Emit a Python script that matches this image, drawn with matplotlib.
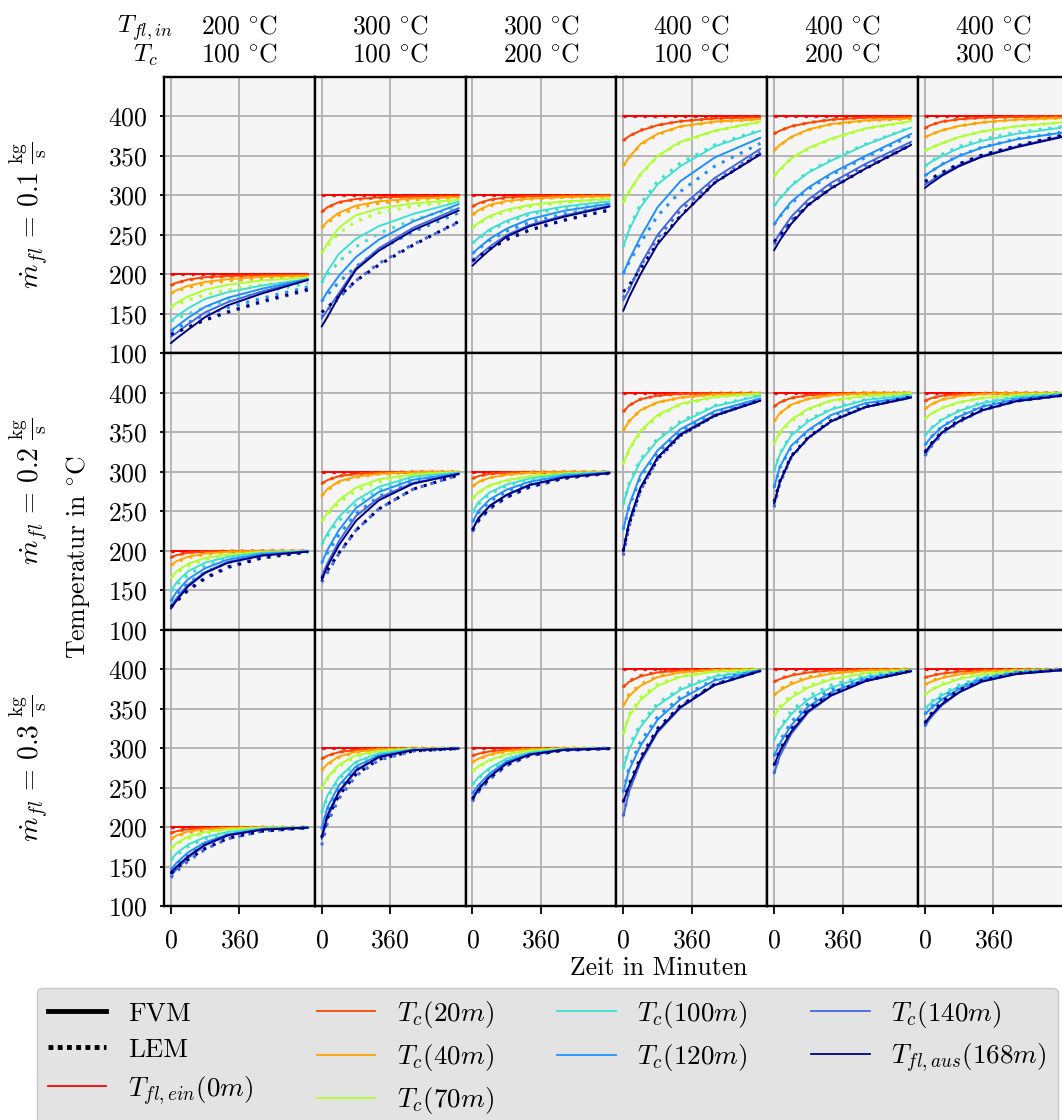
import matplotlib
matplotlib.use("Agg")
import matplotlib.pyplot as plt
from matplotlib.lines import Line2D

plt.rcParams.update({
    "font.family": ["cmr10", "DejaVu Serif"],
    "mathtext.fontset": "cm",
    "axes.unicode_minus": False,
    "axes.formatter.use_mathtext": True,
    "font.size": 18.5,
})

# ---------------- data ----------------
t_min = [0, 30, 90, 180, 300, 480, 720]
T_in = [200, 300, 300, 400, 400, 400]
T_c0 = [100, 100, 200, 100, 200, 300]
mdot = ["0.1", "0.2", "0.3"]
curve_labels = [r"$T_{fl,ein}(\mathit{0m})$", r"$T_c(\mathit{20m})$", r"$T_c(\mathit{40m})$",
                r"$T_c(\mathit{70m})$", r"$T_c(\mathit{100m})$", r"$T_c(\mathit{120m})$",
                r"$T_c(\mathit{140m})$", r"$T_{fl,aus}(\mathit{168m})$"]
curve_colors = ["red", "orangered", "orange", "greenyellow", "turquoise",
                "dodgerblue", "royalblue", "navy"]

# row 1 (0.1 kg/s)
fvm_r1c1 = [[200]*7,
            [186.4, 189.5, 193.5, 196.5, 198, 199, 199.5],
            [176, 180, 185.5, 190.5, 194, 197, 198.5],
            [159, 164, 172, 180.5, 187, 192.5, 196],
            [141, 147, 157, 169, 177.5, 186, 194],
            [128.5, 134, 145, 159, 170.5, 182, 194],
            [121, 126, 137, 152, 165, 178.5, 193.5],
            [113, 119, 130, 146, 161, 176, 193]]
lem_r1c1 = [[200]*7,
            [186, 189, 193, 196, 197.5, 198.5, 199],
            [176, 179, 183.5, 188, 192, 195, 197.5],
            [159, 162, 167.5, 174, 180.5, 187, 193],
            [141, 144, 150, 158.5, 167, 177.5, 189],
            [128.5, 132, 139, 148.5, 158, 170, 184],
            [124, 127, 133, 142, 152, 165, 180],
            [124, 127, 133, 142.5, 152.5, 166, 181]]
fvm_r1c2 = [[300]*7,
            [279, 285, 291.5, 295.5, 297.5, 298.5, 299],
            [259, 267, 278, 287, 292.5, 296, 298],
            [227, 239, 259, 275, 283.5, 290, 294.5],
            [189.5, 204, 226, 245, 261, 276.5, 292],
            [166, 178, 198, 222, 244, 267, 289],
            [144, 155, 176, 208, 233, 259, 284],
            [134, 146, 172, 206, 230, 256, 281]]
lem_r1c2 = [[300]*7,
            [279, 284.5, 291, 295, 297, 298.5, 299],
            [259, 265.5, 275, 284, 290, 294.5, 297.5],
            [227, 236, 252, 267, 278, 286.5, 292.5],
            [189.5, 199, 216, 235, 252, 269, 286],
            [166, 174, 190, 210, 231, 254, 278],
            [146, 155, 170, 192, 214, 238, 266],
            [152, 158, 172, 192, 212, 237, 267]]
fvm_r1c3 = [[300]*7,
            [286, 290, 294.5, 297.5, 299, 299.5, 300],
            [275.5, 281, 288, 293, 296, 298, 299],
            [259, 265, 274, 282, 288, 292.5, 295.5],
            [239.5, 246, 257, 268, 278, 286, 292.5],
            [226.5, 233, 245, 258, 270, 280.5, 289.5],
            [216, 223, 235, 250, 262.5, 274.5, 287],
            [211, 218, 231, 248, 261, 273, 286]]
lem_r1c3 = [[300]*7,
            [286, 289.5, 294, 297, 298.5, 299.5, 300],
            [275.5, 280, 286.5, 292, 295.5, 297.5, 298.5],
            [259, 264, 272, 280, 286, 291, 294.5],
            [239.5, 245, 255, 266, 276, 284, 291],
            [226.5, 232, 243, 255, 266, 276.5, 286],
            [218, 223, 233, 245, 257, 269, 282],
            [217, 222, 232, 244, 256, 268.5, 281.5]]
fvm_r1c4 = [[400]*7,
            [369.5, 375, 382, 389, 394, 397.5, 399],
            [337.5, 348, 365, 378, 387.5, 393.5, 396.5],
            [291, 305, 327, 350, 368, 382, 393.5],
            [235, 256, 285, 314, 337, 362, 382],
            [201, 218, 247, 285, 318, 348, 373],
            [167, 180, 212, 250, 285, 322, 359],
            [154, 171, 200, 238, 273, 316, 352]]
lem_r1c4 = [[400]*7,
            [369.5, 375, 382.5, 389, 394, 397.5, 399],
            [337.5, 348, 364, 377, 387, 393, 396.5],
            [291, 304, 326, 349, 367, 381.5, 393],
            [235, 258, 289, 318, 341, 364, 383],
            [201, 215, 240, 274, 305, 337, 366],
            [170, 182, 210, 246, 281, 318, 355],
            [178, 186, 207, 240, 274, 316, 353]]
fvm_r1c5 = [[400]*7,
            [378, 382, 387.5, 392, 396, 398.5, 399.5],
            [357, 364, 374, 383.5, 390.5, 395, 397.5],
            [324, 333, 347, 360, 372, 385, 394],
            [287, 296, 312, 329, 344, 364, 386],
            [263, 274, 292, 310, 328, 350, 378],
            [240, 252, 273, 295, 316, 340, 368],
            [230.5, 243, 264, 288, 309, 334, 364]]
lem_r1c5 = [[400]*7,
            [378, 382, 387.5, 392, 396, 398.5, 399.5],
            [357, 363.5, 373.5, 383, 390, 394.5, 397],
            [324, 332, 346, 359, 371, 384.5, 393.5],
            [287, 296, 313, 330, 345.5, 365, 386.5],
            [263, 273, 290, 308, 326, 348, 376],
            [238, 248, 268, 291, 313, 338, 366],
            [241.5, 249, 266, 288, 309, 334, 364]]
fvm_r1c6 = [[400]*7,
            [385, 389, 393.5, 396.5, 398.5, 399.5, 400],
            [373.5, 377, 382.5, 388, 392.5, 396, 398],
            [357, 360, 366, 374, 381, 387.5, 392.5],
            [337, 342, 350, 360, 369, 378, 386],
            [325, 330, 339, 350, 360.5, 371, 379.5],
            [313.5, 318, 327, 338.5, 350, 362, 375],
            [309.5, 315, 325, 337, 349, 361, 374]]
lem_r1c6 = [[400]*7,
            [385, 389, 393.5, 396.5, 398.5, 399.5, 400],
            [373.5, 377, 382.5, 388, 392.5, 396, 398],
            [357, 360, 366, 374, 381, 387.5, 392.5],
            [337, 343, 352, 362, 371, 380, 387],
            [325, 330, 339.5, 350.5, 361, 371.5, 380],
            [316, 320, 328.5, 340, 351, 363, 376],
            [318, 321, 329, 340, 351, 362.5, 376]]

# row 2 (0.2 kg/s)
fvm_r2c1 = [[200]*7,
            [191.5, 194.5, 197.5, 199, 199.7, 200, 200],
            [181.5, 187, 192.5, 196.5, 198.8, 199.7, 200],
            [166, 174, 183.5, 191, 195.5, 198.5, 199.7],
            [148.5, 160, 174, 185, 192.5, 197.5, 199.5],
            [136.5, 148, 164, 178, 189, 196, 199.3],
            [130, 140, 157, 173, 186, 194.5, 199],
            [127, 137, 155, 172, 185, 194, 199]]
lem_r2c1 = [[200]*7,
            [191.5, 194.5, 197.5, 199, 199.7, 200, 200],
            [181.5, 186, 191.5, 195.5, 198.5, 199.5, 200],
            [166, 172.5, 181, 189, 194.5, 198, 199.7],
            [148.5, 157, 170, 181.5, 190.5, 196.5, 199.5],
            [136.5, 145, 159, 173, 185, 194, 199],
            [128, 136, 151, 166, 180, 191.5, 198.5],
            [129, 136, 150, 165, 179, 191, 198.5]]
fvm_r2c2 = [[300]*7,
            [285, 289.5, 294.5, 297.5, 299.3, 300, 300],
            [269.5, 278, 288, 294, 297.5, 299.5, 300],
            [237.5, 248, 264, 280, 290.5, 297, 299.7],
            [208, 222, 243, 264, 281, 294, 299],
            [184.5, 201, 226, 254, 274.5, 290, 298],
            [168, 184, 212, 244, 267, 286, 297],
            [163, 180, 207, 238, 264, 285, 297.5]]
lem_r2c2 = [[300]*7,
            [285, 289.5, 294.5, 297.5, 299.3, 300, 300],
            [269.5, 277, 286.5, 293, 297, 299.3, 300],
            [237.5, 246, 260.5, 276, 287.5, 296, 299.5],
            [208, 219, 238, 259, 277, 292, 298.5],
            [184.5, 197, 220, 247, 269, 287, 297.5],
            [160, 172, 196, 226, 253, 278, 296],
            [165, 175, 197, 226, 253, 278, 296]]
fvm_r2c3 = [[300]*7,
            [291.5, 294.5, 297.5, 299, 299.7, 300, 300],
            [281.5, 287, 292.5, 296.5, 298.8, 299.7, 300],
            [266, 274, 283, 289.5, 294.5, 298, 299.7],
            [248.5, 261, 274, 284, 291.5, 297, 299.5],
            [236.5, 250, 265, 277.5, 287.5, 295, 299],
            [227, 240, 256.5, 270.5, 283, 293, 298.5],
            [226.5, 241, 257, 271, 283.5, 293, 298.5]]
lem_r2c3 = [[300]*7,
            [291.5, 294.5, 297.5, 299, 299.7, 300, 300],
            [281.5, 287, 292.5, 296.5, 298.8, 299.7, 300],
            [266, 273, 282, 288.5, 294, 297.5, 299.5],
            [248.5, 259, 272, 282.5, 290.5, 296.5, 299.5],
            [236.5, 248, 262.5, 275, 285.5, 294, 299],
            [224, 237, 253, 267.5, 280.5, 291.5, 298],
            [226.5, 238, 254, 268, 281, 292, 298.5]]
fvm_r2c4 = [[400]*7,
            [376, 384, 392, 396.5, 398.8, 399.7, 400],
            [352, 364, 378, 388, 394, 398, 399.5],
            [310, 328, 352, 372, 386, 395, 399],
            [259, 283, 313, 340, 362, 383, 396.5],
            [227, 257, 296, 327, 354, 377, 393],
            [199, 234, 279, 318, 348, 372, 391],
            [199.5, 236, 280, 318, 347, 371, 390]]
lem_r2c4 = [[400]*7,
            [376, 384, 392, 396.5, 398.8, 399.7, 400],
            [352, 364, 378, 388, 394, 398, 399.5],
            [310, 327, 350, 370, 385, 394.5, 399],
            [259, 285, 316, 342, 364, 384, 397],
            [227, 255, 293, 324, 351, 375, 392],
            [194, 230, 276, 316, 346, 371, 391],
            [199.5, 233, 277, 316, 346, 371, 391]]
fvm_r2c5 = [[400]*7,
            [382.5, 388, 393.5, 397, 399, 400, 400],
            [364, 374, 385, 392.5, 397, 399.5, 400],
            [335, 350, 366, 380, 390.5, 396.5, 399.5],
            [301, 322, 346, 364, 379, 391, 397],
            [280, 306, 333, 353, 372, 387, 395],
            [258, 286, 319, 343, 364, 382, 394.5],
            [260, 287, 319, 343, 364, 382, 394]]
lem_r2c5 = [[400]*7,
            [382.5, 388, 393.5, 397, 399, 400, 400],
            [364, 374, 385, 392.5, 397, 399.5, 400],
            [335, 349, 364, 378.5, 389.5, 396, 399.5],
            [301, 323, 348, 366, 380, 392, 397.5],
            [280, 305, 331, 352, 371, 386, 395],
            [255, 285, 318, 343, 364, 382, 394.5],
            [262, 288, 320, 344, 365, 382.5, 395]]
fvm_r2c6 = [[400]*7,
            [389.5, 393, 396.5, 398.5, 399.5, 400, 400],
            [379.5, 385, 391.5, 396, 398.5, 399.7, 400],
            [367, 373, 381, 388, 393.5, 397.5, 399.5],
            [346, 354, 366, 377, 387, 394.5, 398.5],
            [334, 343, 357, 370, 382.5, 392, 397.5],
            [321, 332, 349, 363.5, 377.5, 389.5, 396.5],
            [324.5, 334, 350, 364, 378, 389.5, 396.5]]
lem_r2c6 = [[400]*7,
            [389.5, 393, 396.5, 398.5, 399.5, 400, 400],
            [379.5, 385, 391.5, 396, 398.5, 399.7, 400],
            [367, 373, 381, 388, 393.5, 397.5, 399.5],
            [346, 355, 367, 378, 388, 395, 398.7],
            [334, 343.5, 357.5, 371, 383, 392.5, 398],
            [320, 331, 348, 363, 377.5, 389.5, 396.5],
            [325, 335, 351, 365.5, 379, 390, 397]]

# row 3 (0.3 kg/s)
fvm_r3c1 = [[200]*7,
            [192.5, 195, 197.5, 199, 199.7, 200, 200],
            [185, 189.5, 194.5, 197.5, 199, 199.8, 200],
            [173, 180, 188, 194, 197.5, 199.5, 200],
            [158.5, 167, 178, 187.5, 194, 198.5, 199.8],
            [146, 155, 168, 181, 191, 197.5, 199.7],
            [138, 147, 161, 177, 189.5, 197, 199.5],
            [142, 150, 163, 178, 190, 197, 199.5]]
lem_r3c1 = [[200]*7,
            [192.5, 195, 197.5, 199, 199.7, 200, 200],
            [185, 188.5, 193, 196.5, 198.5, 199.7, 200],
            [173, 178.5, 186, 192.5, 196.5, 199, 200],
            [158.5, 165, 175.5, 185.5, 192.5, 198, 199.7],
            [146, 153.5, 165.5, 178.5, 189, 196.5, 199.5],
            [136, 144, 157, 172, 185.5, 195, 199.3],
            [142, 148, 159, 173, 186, 195, 199.3]]
fvm_r3c2 = [[300]*7,
            [286.5, 290.5, 295, 298, 299.5, 300, 300],
            [272, 280, 289.5, 295.5, 298.5, 299.7, 300],
            [248.5, 263, 279, 291, 296.5, 299.3, 300],
            [218.5, 240, 263, 283, 293.5, 298.5, 300],
            [198, 225, 253, 277, 291, 298, 299.8],
            [185, 212, 243, 271, 288.5, 297.5, 299.7],
            [187, 215, 245, 272, 289, 297.5, 299.7]]
lem_r3c2 = [[300]*7,
            [286.5, 290.5, 295, 298, 299.5, 300, 300],
            [272, 279, 288.5, 295, 298.3, 299.7, 300],
            [248.5, 261, 277, 289.5, 296, 299, 300],
            [218.5, 238, 261, 281.5, 292.5, 298, 300],
            [198, 222, 250, 274.5, 289.5, 297.5, 299.7],
            [177, 205, 236, 265, 285, 296.5, 299.5],
            [187, 211, 240, 267, 286, 296.5, 299.5]]
fvm_r3c3 = [[300]*7,
            [290.5, 293, 296, 298.3, 299.5, 300, 300],
            [282.5, 286.5, 292, 296.5, 298.7, 299.8, 300],
            [271, 277, 285, 292.5, 297, 299.5, 300],
            [254, 263, 275, 287, 294.5, 298.7, 300],
            [242.5, 253, 268, 283.5, 293, 298.3, 299.8],
            [234, 247, 263.5, 280.5, 292, 298, 299.7],
            [236, 248, 264, 281, 292, 298, 299.7]]
lem_r3c3 = [[300]*7,
            [290.5, 293, 296, 298.3, 299.5, 300, 300],
            [282.5, 286, 291.5, 296, 298.5, 299.8, 300],
            [271, 276, 284, 291.5, 296.5, 299.3, 300],
            [254, 262, 273.5, 286, 294, 298.5, 300],
            [242.5, 251.5, 266, 281.5, 292, 298, 299.7],
            [232.5, 244, 260.5, 278, 290.5, 297.5, 299.5],
            [236, 246, 262, 279, 291, 297.5, 299.5]]
fvm_r3c4 = [[400]*7,
            [377.5, 384, 391, 396, 398.5, 399.7, 400],
            [354, 366, 379, 390, 396, 399, 400],
            [318, 340, 361, 379, 390.5, 397, 399.7],
            [274, 298, 327, 354, 374, 391, 399],
            [244.5, 272, 303, 336, 362, 386, 398.5],
            [214, 245, 282, 320, 351, 380, 397.5],
            [232, 252, 285, 322, 352, 380, 398]]
lem_r3c4 = [[400]*7,
            [377.5, 385, 392, 396.5, 398.7, 399.8, 400],
            [354, 368, 381, 391, 396.5, 399, 400],
            [318, 343, 364, 381, 391.5, 397.5, 399.7],
            [274, 303, 331, 357, 376, 392, 399],
            [244.5, 275, 308, 340, 365, 387, 398.5],
            [214, 247, 284, 322, 353, 381, 398],
            [232, 254, 288, 325, 354, 381, 398]]
fvm_r3c5 = [[400]*7,
            [384, 387.5, 392, 396, 398.5, 399.8, 400],
            [367, 373, 381, 389, 394.5, 398.5, 400],
            [341, 351, 364, 377, 387, 395, 399.5],
            [310, 324, 343, 362, 377, 390.5, 398.5],
            [290, 306, 329, 353, 371, 387.5, 398],
            [268, 290, 318, 345.5, 366.5, 385, 397.5],
            [278.5, 296, 321, 347, 367, 385, 397.5]]
lem_r3c5 = [[400]*7,
            [384, 388, 393, 396.5, 398.7, 399.8, 400],
            [367, 374.5, 383, 390.5, 395.5, 398.7, 400],
            [341, 353, 367, 379.5, 388.5, 396, 399.5],
            [310, 327, 347, 366, 380, 392, 399],
            [290, 309, 333, 357, 374, 389, 398.5],
            [268, 292, 321, 348.5, 368, 386, 398],
            [278.5, 298, 324, 350, 369, 386, 398]]
fvm_r3c6 = [[400]*7,
            [389.5, 391.5, 394.5, 397, 398.8, 399.8, 400],
            [380.5, 384, 389, 393.5, 397, 399.2, 400],
            [368, 373, 380, 387.5, 393.5, 397.5, 399.7],
            [350, 357, 367, 378, 389, 396, 399.5],
            [343, 350, 362, 375, 387, 395, 399],
            [328, 338.5, 354.5, 370.5, 384.5, 394, 399],
            [332, 341, 356, 371, 384.5, 394, 399]]
lem_r3c6 = [[400]*7,
            [389.5, 392, 395, 397.5, 399, 399.8, 400],
            [380.5, 385, 390, 394.5, 397.5, 399.3, 400],
            [368, 374, 381.5, 389, 394.5, 398, 400],
            [350, 358.5, 369, 380, 390.5, 397, 399.7],
            [343, 352, 364.5, 377, 388.5, 396, 399.5],
            [328, 340, 357, 373, 386, 395, 399.3],
            [332, 343, 359, 374, 386, 395, 399.3]]

fvm_grid = [[fvm_r1c1, fvm_r1c2, fvm_r1c3, fvm_r1c4, fvm_r1c5, fvm_r1c6],
            [fvm_r2c1, fvm_r2c2, fvm_r2c3, fvm_r2c4, fvm_r2c5, fvm_r2c6],
            [fvm_r3c1, fvm_r3c2, fvm_r3c3, fvm_r3c4, fvm_r3c5, fvm_r3c6]]
lem_grid = [[lem_r1c1, lem_r1c2, lem_r1c3, lem_r1c4, lem_r1c5, lem_r1c6],
            [lem_r2c1, lem_r2c2, lem_r2c3, lem_r2c4, lem_r2c5, lem_r2c6],
            [lem_r3c1, lem_r3c2, lem_r3c3, lem_r3c4, lem_r3c5, lem_r3c6]]

# ---------------- figure ----------------
W, H = 1062, 1120
fig = plt.figure(figsize=(W / 100, H / 100), dpi=100)

col_left0, col_w = 164, 150.8
row_top0, row_h = 77, 276.4
dotted = (0, (1, 2.3))

for r in range(3):
    for c in range(6):
        left = (col_left0 + c * col_w) / W
        bottom = 1 - (row_top0 + (r + 1) * row_h) / H
        ax = fig.add_axes([left, bottom, col_w / W, row_h / H])
        ax.set_facecolor("#f5f5f5")
        ax.set_axisbelow(True)
        ax.grid(True, color="#b4b4b4", lw=1.4)
        for sp in ax.spines.values():
            sp.set_color("black")
            sp.set_linewidth(1.7)
        for k in range(8):
            ax.plot(t_min, fvm_grid[r][c][k], color=curve_colors[k], lw=1.4,
                    solid_capstyle="round", solid_joinstyle="round")
            ax.plot(t_min, lem_grid[r][c][k], color=curve_colors[k], lw=2.2,
                    linestyle=dotted)
        ax.set_xlim(-36, 756)
        ax.set_ylim(100, 450)
        ax.set_xticks([0, 360])
        ax.set_yticks([100, 150, 200, 250, 300, 350, 400])
        ax.tick_params(axis="x", direction="out", length=6, width=1.3, pad=10,
                       labelsize=18.5)
        ax.tick_params(axis="y", direction="out", length=3, width=1.3, pad=9,
                       labelsize=18.5)
        if r != 2:
            ax.tick_params(axis="x", length=0, labelbottom=False)
        if c != 0:
            ax.tick_params(axis="y", length=0, labelleft=False)


def deg(v):
    return r"$\mathrm{" + str(v) + r"}\ ^{\circ}\mathrm{C}$"


# headers
fig.text(145 / W, 1 - 33 / H, r"$T_{fl,in}$", ha="center", va="baseline", fontsize=18.5)
fig.text(145 / W, 1 - 62 / H, r"$T_c$", ha="center", va="baseline", fontsize=18.5)
for c in range(6):
    xc = (col_left0 + (c + 0.5) * col_w) / W
    fig.text(xc, 1 - 33 / H, deg(T_in[c]), ha="center", va="baseline", fontsize=18.5)
    fig.text(xc, 1 - 62 / H, deg(T_c0[c]), ha="center", va="baseline", fontsize=18.5)

# row labels
for r in range(3):
    yc = 1 - (row_top0 + (r + 0.5) * row_h) / H
    fig.text(29 / W, yc,
             r"$\dot{m}_{fl}\,=\,\mathrm{" + mdot[r] + r"}\ \frac{\mathrm{kg}}{\mathrm{s}}$",
             rotation=90, ha="center", va="center", fontsize=20)

fig.text(78 / W, 1 - 557 / H, r"Temperatur in $^{\circ}\mathrm{C}$", rotation=90,
         ha="center", va="center", fontsize=18.5)
fig.text(659 / W, 1 - 968 / H, "Zeit in Minuten", ha="center", va="center",
         fontsize=18.5)

# legend
handles = [Line2D([], [], color="black", lw=3.5, label="FVM"),
           Line2D([], [], color="black", lw=3.5, linestyle=(0, (1, 0.9)), label="LEM")]
for k in range(8):
    handles.append(Line2D([], [], color=curve_colors[k], lw=1.3, label=curve_labels[k]))
leg = fig.legend(handles=handles, ncol=4, loc="upper left",
                 bbox_to_anchor=(37 / W, 1 - 988 / H), borderaxespad=0,
                 fontsize=19.5, frameon=True, facecolor="#e3e3e3",
                 edgecolor="#c8c8c8", framealpha=1, handlelength=2.15,
                 columnspacing=2.35, labelspacing=0.45, borderpad=0.4,
                 fancybox=True)

fig.savefig("out.png", dpi=100)
